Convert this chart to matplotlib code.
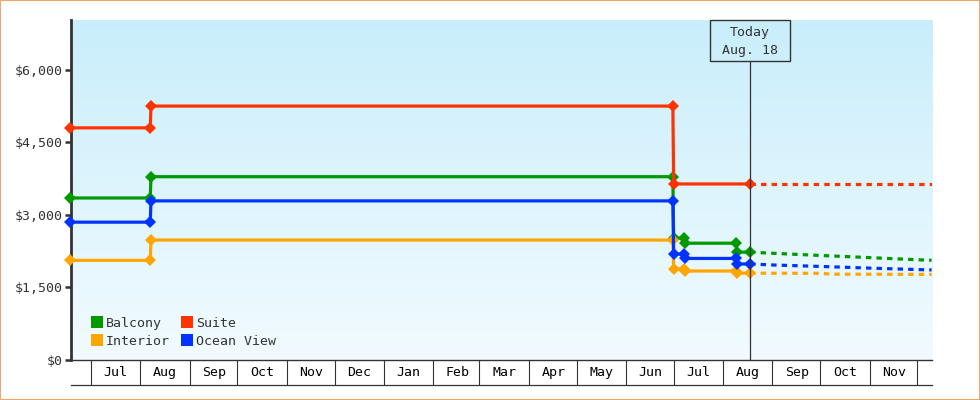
import numpy as np
import pandas as pd
import matplotlib
matplotlib.use("Agg")
import matplotlib.pyplot as plt
import matplotlib.dates as mdates
import matplotlib.ticker as mticker
from matplotlib.lines import Line2D
from matplotlib.patches import Rectangle

# --- dados ---
cabines = ["Balcony", "Suite", "Interior", "Ocean View"]
cores = ["#009900", "#ff3300", "#ffa500", "#0033ff"]

datas_balcony = ["2023-06-18", "2023-08-07 06:00", "2023-08-07 18:00", "2024-06-30 12:00",
                 "2024-07-01", "2024-07-07 12:00", "2024-07-08", "2024-08-09",
                 "2024-08-10", "2024-08-18"]
precos_balcony = [3350, 3350, 3790, 3790, 2520, 2520, 2415, 2415, 2230, 2230]

datas_suite = ["2023-06-18", "2023-08-07 06:00", "2023-08-07 18:00", "2024-06-30 12:00",
               "2024-07-01", "2024-08-18"]
precos_suite = [4800, 4800, 5250, 5250, 3640, 3640]

datas_interior = datas_balcony
precos_interior = [2060, 2060, 2480, 2480, 1880, 1880, 1840, 1840, 1795, 1795]

datas_ocean = datas_balcony
precos_ocean = [2850, 2850, 3290, 3290, 2190, 2190, 2100, 2100, 1985, 1985]

# previsão (tracejado) depois de hoje
prev_datas = ["2024-08-18", "2024-09-01", "2024-10-01", "2024-11-01", "2024-12-01", "2024-12-10"]
prev_balcony = [2230, 2207, 2162, 2117, 2073, 2063]
prev_suite = [3640, 3640, 3640, 3640, 3640, 3640]
prev_ocean = [1985, 1965, 1935, 1900, 1870, 1862]
prev_int_datas = ["2024-08-18", "2024-10-01", "2024-10-08", "2024-12-10"]
prev_interior = [1795, 1792, 1775, 1770]

hoje = pd.Timestamp("2024-08-18")
inicio = pd.Timestamp("2023-06-18 12:00")
fim = pd.Timestamp("2024-12-10 06:00")
meses_ini = pd.date_range("2023-07-01", "2024-12-01", freq="MS")

y_ticks = [0, 1500, 3000, 4500, 6000]
y_labels = ["$0", "$1,500", "$3,000", "$4,500", "$6,000"]

series = [
    (datas_balcony, precos_balcony, prev_datas, prev_balcony),
    (datas_suite, precos_suite, prev_datas, prev_suite),
    (datas_interior, precos_interior, prev_int_datas, prev_interior),
    (datas_ocean, precos_ocean, prev_datas, prev_ocean),
]


def para_datas(lista):
    return pd.to_datetime(lista, format="ISO8601")


# --- gráfico ---
escuro = "#333333"
plt.rcParams["font.family"] = "DejaVu Sans Mono"
plt.rcParams["font.size"] = 9.5

fig = plt.figure(figsize=(9.8, 4.0), dpi=100)
ax = fig.add_axes([71 / 980, 0.1, 861 / 980, 0.85])

# fundo em degradê
grad = np.linspace(0, 1, 256).reshape(-1, 1)
cmap = matplotlib.colors.LinearSegmentedColormap.from_list("fundo", ["#f2fbff", "#c9eefb"])
ax.imshow(grad, extent=[0, 1, 0, 1], transform=ax.transAxes, aspect="auto",
          cmap=cmap, origin="lower", zorder=0)

for (d, p, dp, pp), cor in zip(series, cores):
    ax.plot(para_datas(dp), pp, color=cor, lw=2.3, ls=(0, (1.7, 1.6)), zorder=3)
    ax.plot(para_datas(d), p, color=cor, lw=2.3, marker="D", ms=6.5,
            mew=0, zorder=4, clip_on=False)

ax.set_xlim(inicio, fim)
ax.set_ylim(0, 7030)

# linha de hoje + caixa
topo_linha = (360 - 60.7) / 340
ax.axvline(hoje, ymin=0, ymax=topo_linha, color=escuro, lw=0.9, zorder=5)
meia = pd.Timedelta(days=25.2)
x0 = mdates.date2num(hoje - meia)
x1 = mdates.date2num(hoje + meia)
ax.add_patch(Rectangle((x0, topo_linha), x1 - x0, 1 - topo_linha,
                       transform=ax.get_xaxis_transform(), fill=False,
                       edgecolor=escuro, lw=1, clip_on=False, zorder=6))
ax.text(hoje, 1 - 12.7 / 340, "Today", transform=ax.get_xaxis_transform(),
        ha="center", va="center", color=escuro)
ax.text(hoje, 1 - 30.7 / 340, "Aug. 18", transform=ax.get_xaxis_transform(),
        ha="center", va="center", color=escuro)

# eixos
for lado in ["top", "right"]:
    ax.spines[lado].set_visible(False)
ax.spines["left"].set_linewidth(2)
ax.spines["left"].set_color(escuro)
ax.spines["bottom"].set_linewidth(1)
ax.spines["bottom"].set_color(escuro)

ax.set_yticks(y_ticks)
ax.set_yticklabels(y_labels)
ax.tick_params(axis="y", direction="out", length=4, width=1.8, color=escuro,
               labelcolor=escuro, pad=2)

ax.xaxis.set_major_locator(mticker.FixedLocator(mdates.date2num(meses_ini)))
ax.xaxis.set_major_formatter(mticker.NullFormatter())
meio = meses_ini[:-1] + pd.Timedelta(days=15.5)
ax.xaxis.set_minor_locator(mticker.FixedLocator(mdates.date2num(meio)))
ax.xaxis.set_minor_formatter(mdates.DateFormatter("%b"))
ax.tick_params(axis="x", which="major", direction="out", length=18, width=0.8, color=escuro)
ax.tick_params(axis="x", which="minor", length=0, pad=4.5, labelcolor="black")

# linha de baixo da faixa de meses
ax.plot([0, 1], [-25 / 340, -25 / 340], transform=ax.transAxes, color=escuro,
        lw=0.9, clip_on=False)

# legenda (preenchida por coluna: Balcony/Interior, Suite/Ocean View)
ordem = [0, 2, 1, 3]
handles = [Line2D([], [], ls="none", marker="s", ms=8, mew=0, color=cores[i]) for i in ordem]
ax.legend(handles, [cabines[i] for i in ordem], ncol=2, loc="lower left",
          bbox_to_anchor=(0.024, 0.035), frameon=False, handlelength=0.8,
          handletextpad=0.25, columnspacing=0.95, labelspacing=0.38,
          borderpad=0, borderaxespad=0, labelcolor=escuro)

# borda laranja da figura
fig.add_artist(Rectangle((0, 0), 1, 1, transform=fig.transFigure, fill=False,
                         edgecolor="#e8a96a", lw=1.5))

fig.savefig("out.png", dpi=100)
